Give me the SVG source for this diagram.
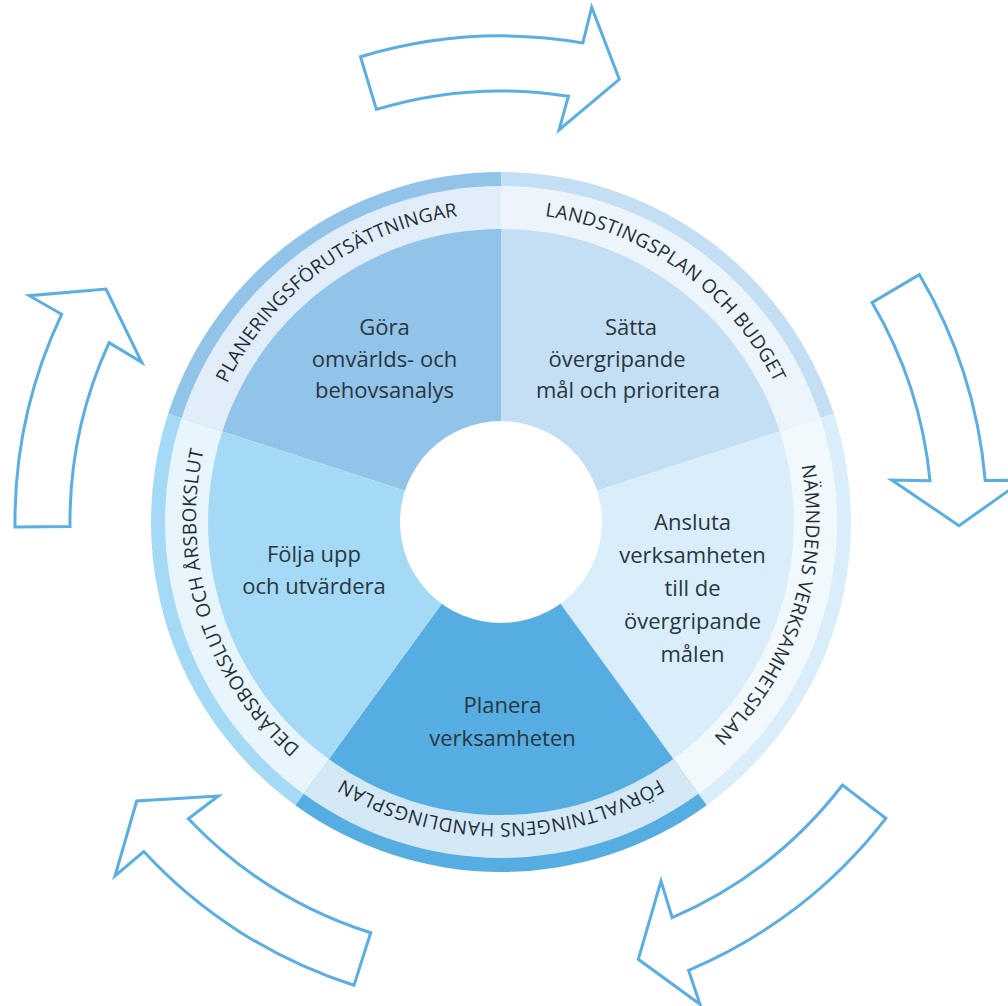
<svg xmlns="http://www.w3.org/2000/svg" width="1008" height="1006" viewBox="0 0 1008 1006">
<style>
.lbl{font-family:"Open Sans","Noto Sans",sans-serif;font-size:22px;fill:#2a3640;text-anchor:middle}
.ring{font-family:"Open Sans","Noto Sans",sans-serif;font-size:19px;fill:#232e37;letter-spacing:0.3px}
.arrow{fill:#ffffff;stroke:#5aaee3;stroke-width:3;stroke-linejoin:miter}
</style>
<defs>
<path id="tp1" d="M 210.93 423.75 A 305 305 0 0 1 501 213"/>
<path id="tp2" d="M 501 213 A 305 305 0 0 1 791.07 423.75"/>
<path id="tp3" d="M 791.07 423.75 A 305 305 0 0 1 680.28 764.75"/>
<path id="tp4" d="M 680.28 764.75 A 305 305 0 0 1 321.72 764.75"/>
<path id="tp5" d="M 321.72 764.75 A 305 305 0 0 1 210.93 423.75"/>
</defs>
<rect width="1008" height="1006" fill="#ffffff"/>
<g id="connectors">
<path class="arrow" d="M360.5 56.8 A486 486 0 0 1 582.9 42.9 L591.7 7.3 L619.3 79.3 L559 130 L568.4 96.3 A431 431 0 0 0 376.4 109.4 Z"/>
<path class="arrow" d="M919.3 274.6 A486 486 0 0 1 985.2 480.5 L1023.5 480 L959 525.7 L891.7 480 L930 480.7 A431 431 0 0 0 872 302.6 Z"/>
<path class="arrow" d="M885.8 818.3 A486 486 0 0 1 688.6 970.3 L700 1004.3 L638.3 959.3 L661 881 L672.2 917.6 A431 431 0 0 0 842.5 785 Z"/>
<path class="arrow" d="M354 985.3 A486 486 0 0 1 143.8 851.6 L115 876 L136.7 801 L218.3 796 L188.4 818.7 A431 431 0 0 0 370.7 932.8 Z"/>
<path class="arrow" d="M15 527.1 A486 486 0 0 1 61.6 314.3 L29.3 295.7 L106 289 L141.7 362.3 L109.1 342.6 A431 431 0 0 0 70 526.5 Z"/>
</g>
<g id="planeringsforutsattningar">
<path fill="#92c3e9" d="M501 522 L168.13 413.84 A350 350 0 0 1 501 172 Z"/>
<path fill="#e1eef9" d="M501 522 L181.45 418.17 A336 336 0 0 1 501 186 Z"/>
<path fill="#92c3e9" d="M501 522 L222.34 431.46 A293 293 0 0 1 501 229 Z"/>
<text class="ring"><textPath href="#tp1" startOffset="50%" text-anchor="middle">PLANERINGSFÖRUTSÄTTNINGAR</textPath></text>
<text class="lbl"><tspan x="384.5" y="335">Göra</tspan><tspan x="384.5" y="366.5">omvärlds- och</tspan><tspan x="384.5" y="398">behovsanalys</tspan></text>
</g>
<g id="landstingsplan">
<path fill="#c4dff3" d="M501 522 L501 172 A350 350 0 0 1 833.87 413.84 Z"/>
<path fill="#edf5fc" d="M501 522 L501 186 A336 336 0 0 1 820.55 418.17 Z"/>
<path fill="#c4dff3" d="M501 522 L501 229 A293 293 0 0 1 779.66 431.46 Z"/>
<text class="ring"><textPath href="#tp2" startOffset="50%" text-anchor="middle">LANDSTINGSPLAN OCH BUDGET</textPath></text>
<text class="lbl"><tspan x="631" y="335">Sätta</tspan><tspan x="617" y="366.5">övergripande</tspan><tspan x="628" y="398">mål och prioritera</tspan></text>
</g>
<g id="namndens-verksamhetsplan">
<path fill="#d9eefa" d="M501 522 L833.87 413.84 A350 350 0 0 1 706.72 805.16 Z"/>
<path fill="#f2f9fd" d="M501 522 L820.55 418.17 A336 336 0 0 1 698.5 793.83 Z"/>
<path fill="#d9eefa" d="M501 522 L779.66 431.46 A293 293 0 0 1 673.22 759.04 Z"/>
<text class="ring"><textPath href="#tp3" startOffset="50%" text-anchor="middle">NÄMNDENS VERKSAMHETSPLAN</textPath></text>
<text class="lbl"><tspan x="692.5" y="530">Ansluta</tspan><tspan x="692.5" y="563">verksamheten</tspan><tspan x="692.5" y="596">till de</tspan><tspan x="692.5" y="629">övergripande</tspan><tspan x="692.5" y="662">målen</tspan></text>
</g>
<g id="forvaltningens-handlingsplan">
<path fill="#56ade1" d="M501 522 L706.72 805.16 A350 350 0 0 1 295.28 805.16 Z"/>
<path fill="#d5e8f6" d="M501 522 L698.5 793.83 A336 336 0 0 1 303.5 793.83 Z"/>
<path fill="#56ade1" d="M501 522 L673.22 759.04 A293 293 0 0 1 328.78 759.04 Z"/>
<text class="ring"><textPath href="#tp4" startOffset="50%" text-anchor="middle">FÖRVALTNINGENS HANDLINGSPLAN</textPath></text>
<text class="lbl"><tspan x="502.5" y="713">Planera</tspan><tspan x="502.5" y="746">verksamheten</tspan></text>
</g>
<g id="delarsbokslut">
<path fill="#a5daf6" d="M501 522 L295.28 805.16 A350 350 0 0 1 168.13 413.84 Z"/>
<path fill="#e8f5fc" d="M501 522 L303.5 793.83 A336 336 0 0 1 181.45 418.17 Z"/>
<path fill="#a5daf6" d="M501 522 L328.78 759.04 A293 293 0 0 1 222.34 431.46 Z"/>
<text class="ring"><textPath href="#tp5" startOffset="50%" text-anchor="middle">DELÅRSBOKSLUT OCH ÅRSBOKSLUT</textPath></text>
<text class="lbl"><tspan x="314" y="562">Följa upp</tspan><tspan x="314" y="594">och utvärdera</tspan></text>
</g>
<circle id="center" cx="501" cy="522" r="101" fill="#ffffff"/>
</svg>
